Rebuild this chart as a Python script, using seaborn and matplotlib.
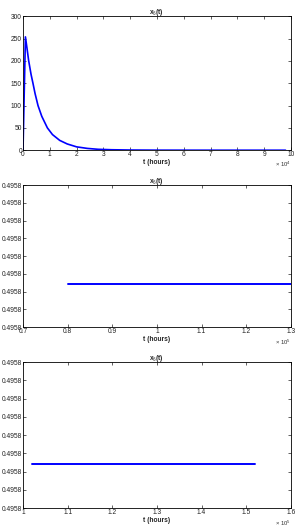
import matplotlib
matplotlib.use('Agg')
import matplotlib.pyplot as plt
import seaborn as sns
import pandas as pd
from matplotlib.ticker import FuncFormatter, MultipleLocator

# ========================================
# Данные (время в часах)
# ========================================
t_first = [0, 900, 1500, 2100, 3000, 3750, 4500, 5600, 7000, 9100, 11000, 13700,
           16500, 20000, 24000, 28000, 33000, 40000, 50000, 60000, 70000, 98000]
x_first = [0, 254, 228, 201, 170, 149, 127, 100, 76, 50, 35, 22,
           14, 7.5, 4, 2, 1, 0.4, 0.1, 0.04, 0, 0]

t_second = [80000, 130000]
x_second = [0.495774, 0.495774]

t_third = [102000, 152000]
x_third = [0.495774, 0.495774]

TITLE = 'x$_6$(t)'
XLABEL = 't (hours)'

sns.set_style('white')
plt.rcParams['font.family'] = ['Liberation Sans', 'DejaVu Sans']
plt.rcParams['mathtext.fontset'] = 'custom'
plt.rcParams['mathtext.rm'] = 'Liberation Sans'
plt.rcParams['mathtext.bf'] = 'Liberation Sans:bold'

fig = plt.figure(figsize=(2.95, 5.27), dpi=100)
FS = 4.8


def style_axes(ax, scale, exp):
    ax.tick_params(direction='in', length=2, width=0.5, labelsize=FS,
                   top=True, right=True, bottom=True, left=True, pad=0.8,
                   colors='#222222')
    for s in ax.spines.values():
        s.set_linewidth(0.6)
        s.set_color('black')
    ax.xaxis.set_major_formatter(FuncFormatter(lambda v, p: f'{v / scale:g}'))
    ax.set_title(TITLE, fontsize=FS, fontweight='bold', pad=1.5)
    ax.set_xlabel(XLABEL, fontsize=FS, fontweight='bold', labelpad=0.3)
    ax.set_ylabel('')
    ax.text(1.0, -0.072, f'× 10$^{exp}$', transform=ax.transAxes, fontsize=4.2,
            ha='right', va='top', color='#333333')


# 1. Первый график
ax1 = fig.add_axes([0.078, 0.715, 0.908, 0.254])
df1 = pd.DataFrame({'t': t_first, 'x': x_first})
sns.lineplot(data=df1, x='t', y='x', ax=ax1, color='#0000ff', linewidth=1.2)
ax1.set_xlim(0, 100000)
ax1.set_ylim(0, 300)
ax1.xaxis.set_major_locator(MultipleLocator(10000))
ax1.yaxis.set_major_locator(MultipleLocator(50))
style_axes(ax1, 1e4, 4)

# 2. Второй график
ax2 = fig.add_axes([0.078, 0.3795, 0.908, 0.269])
df2 = pd.DataFrame({'t': t_second, 'x': x_second})
sns.lineplot(data=df2, x='t', y='x', ax=ax2, color='#0000ff', linewidth=1.4)
ax2.set_xlim(70000, 130000)
ax2.set_ylim(0.49575, 0.49583)
ax2.xaxis.set_major_locator(MultipleLocator(10000))
ax2.yaxis.set_major_locator(MultipleLocator(0.00001))
ax2.yaxis.set_major_formatter(FuncFormatter(lambda v, p: f'{v:.4f}'))
style_axes(ax2, 1e5, 5)

# 3. Третий график
ax3 = fig.add_axes([0.078, 0.036, 0.908, 0.277])
df3 = pd.DataFrame({'t': t_third, 'x': x_third})
sns.lineplot(data=df3, x='t', y='x', ax=ax3, color='#0000ff', linewidth=1.4)
ax3.set_xlim(100000, 160000)
ax3.set_ylim(0.49575, 0.49583)
ax3.xaxis.set_major_locator(MultipleLocator(10000))
ax3.yaxis.set_major_locator(MultipleLocator(0.00001))
ax3.yaxis.set_major_formatter(FuncFormatter(lambda v, p: f'{v:.4f}'))
style_axes(ax3, 1e5, 5)

fig.savefig('out.png', dpi=100)
plt.close(fig)
